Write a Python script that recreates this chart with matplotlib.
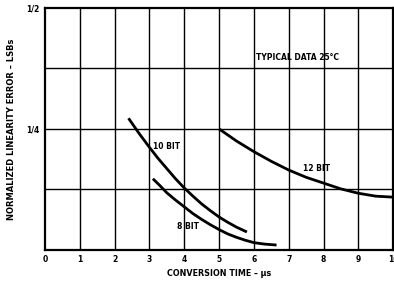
import matplotlib
matplotlib.use('Agg')
import matplotlib.pyplot as plt

# curves (conversion time in us, error in LSBs)
x10 = [2.4, 2.7, 3.0, 3.25, 3.5, 3.75, 4.0, 4.25, 4.5, 4.75, 5.0, 5.25, 5.5, 5.8]
y10 = [0.272, 0.241, 0.212, 0.189, 0.168, 0.147, 0.128, 0.111, 0.095, 0.081, 0.068, 0.057, 0.047, 0.037]
x8 = [3.1, 3.3, 3.5, 3.75, 4.0, 4.25, 4.5, 4.75, 5.0, 5.25, 5.5, 5.75, 6.0, 6.3, 6.65]
y8 = [0.147, 0.133, 0.118, 0.103, 0.089, 0.075, 0.063, 0.052, 0.042, 0.033, 0.026, 0.020, 0.015, 0.012, 0.010]
x12 = [5.0, 5.5, 6.0, 6.5, 7.0, 7.5, 8.0, 8.5, 9.0, 9.5, 10.0]
y12 = [0.250, 0.225, 0.203, 0.183, 0.165, 0.150, 0.138, 0.126, 0.117, 0.111, 0.109]
xticks = list(range(0, 11))
yticks = [0.25, 0.5]
ytick_labels = ["1/4", "1/2"]
ygrid = [0.125, 0.25, 0.375]

plt.rcParams['font.family'] = ['DejaVu Sans']
fig = plt.figure(figsize=(3.94, 2.83), dpi=100)
ax = fig.add_axes([0.114, 0.117, 0.884, 0.855])
ax.set_xlim(0, 10); ax.set_ylim(0, 0.5)

for x in xticks[1:-1]:
    ax.axvline(x, color='black', lw=1.0, zorder=1)
for y in ygrid:
    ax.axhline(y, color='black', lw=1.0, zorder=1)

for xs, ys in [(x10, y10), (x8, y8), (x12, y12)]:
    ax.plot(xs, ys, color='black', lw=2.0, solid_capstyle='butt',
            solid_joinstyle='round', zorder=3)

ax.set_xticks(xticks); ax.set_xticklabels([str(t) for t in xticks])
ax.set_yticks(yticks); ax.set_yticklabels(ytick_labels)
ax.tick_params(length=0, labelsize=5.5, pad=4)
for lbl in ax.get_xticklabels() + ax.get_yticklabels():
    lbl.set_fontweight('bold')
for s in ax.spines.values():
    s.set_linewidth(1.6)

fs = 5.5
ax.text(3.5, 0.214, "10 BIT", fontsize=fs, fontweight='bold', va='center', ha='center', zorder=4)
ax.text(4.1, 0.048, "8 BIT", fontsize=fs, fontweight='bold', va='center', ha='center', zorder=4)
ax.text(7.8, 0.169, "12 BIT", fontsize=fs, fontweight='bold', va='center', ha='center', zorder=4)
ax.text(7.25, 0.398, "TYPICAL DATA 25°C", fontsize=fs, fontweight='bold', va='center', ha='center', zorder=4)

ax.set_xlabel("CONVERSION TIME – µs", fontsize=5.8, fontweight='bold', labelpad=3)
ax.set_ylabel("NORMALIZED LINEARITY ERROR – LSBs", fontsize=6.0, fontweight='bold', labelpad=7)

fig.savefig("out.png", dpi=100)
